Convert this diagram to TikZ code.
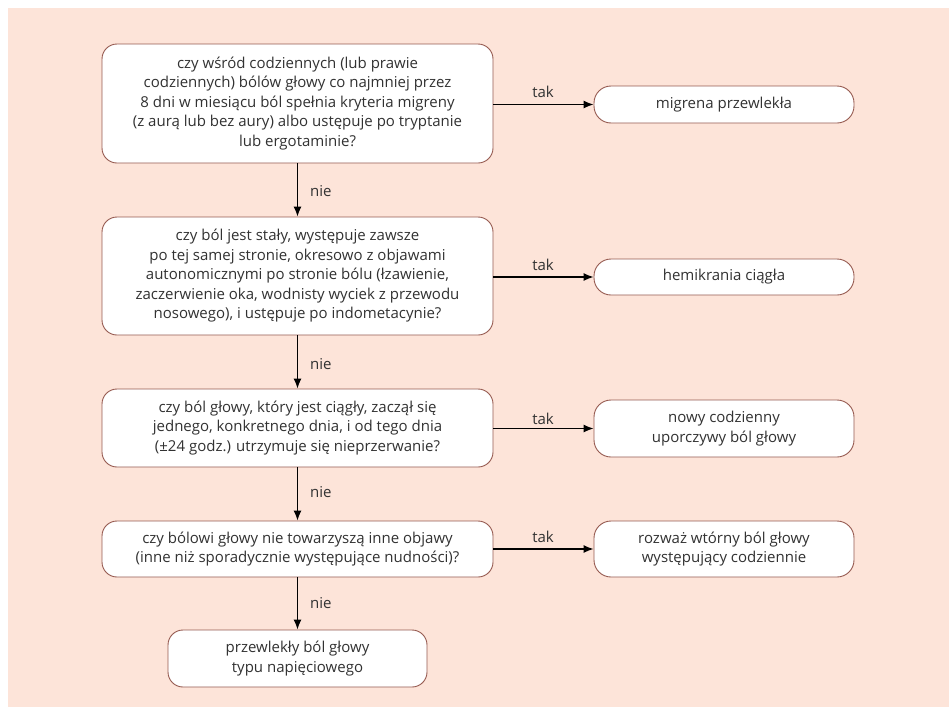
\documentclass[tikz,border=0pt]{standalone}
\usepackage{fontspec}
\setmainfont{Open Sans}
\usetikzlibrary{arrows.meta}
\definecolor{peach}{RGB}{253,228,217}
\definecolor{boxline}{RGB}{150,90,80}
\definecolor{txt}{RGB}{50,50,50}
\begin{document}
\begin{tikzpicture}[x=1pt,y=-1pt,
  qbox/.style={draw=boxline, line width=0.9pt, fill=white, rounded corners=15pt,
    align=center, text=txt, inner sep=0pt, font=\fontsize{15}{19.5}\selectfont},
  abox/.style={draw=boxline, line width=0.9pt, fill=white, rounded corners=17pt,
    align=center, text=txt, inner sep=0pt, font=\fontsize{15}{19.5}\selectfont},
  conn/.style={draw=black, line width=1.3pt, -{Latex[length=10pt,width=8pt]}},
  lbl/.style={text=txt, font=\fontsize{15}{17}\selectfont, inner sep=0pt}]
\useasboundingbox (0,0) rectangle (949,707);
\fill[white] (0,0) rectangle (949,707);
\fill[peach] (8,8) rectangle (949,707);

\node[qbox, minimum width=391pt, minimum height=119pt] (b1) at (297.5,103.5)
  {czy wśród codziennych (lub prawie\\codziennych) bólów głowy co najmniej przez\\8 dni w miesiącu ból spełnia kryteria migreny\\(z aurą lub bez aury) albo ustępuje po tryptanie\\lub ergotaminie?};
\node[qbox, minimum width=391pt, minimum height=118pt] (b2) at (297.5,276)
  {czy ból jest stały, występuje zawsze\\po tej samej stronie, okresowo z objawami\\autonomicznymi po stronie bólu (łzawienie,\\zaczerwienie oka, wodnisty wyciek z przewodu\\nosowego), i ustępuje po indometacynie?};
\node[qbox, minimum width=391pt, minimum height=78pt] (b3) at (297.5,428)
  {czy ból głowy, który jest ciągły, zaczął się\\jednego, konkretnego dnia, i od tego dnia\\(±24 godz.) utrzymuje się nieprzerwanie?};
\node[qbox, minimum width=391pt, minimum height=56pt] (b4) at (297.5,549)
  {czy bólowi głowy nie towarzyszą inne objawy\\(inne niż sporadycznie występujące nudności)?};
\node[qbox, minimum width=259pt, minimum height=57pt] (b5) at (297.5,658.5)
  {przewlekły ból głowy\\typu napięciowego};

\node[abox, minimum width=260pt, minimum height=37pt] (r1) at (724,104.5)
  {migrena przewlekła};
\node[abox, minimum width=260pt, minimum height=36pt] (r2) at (724,277)
  {hemikrania ciągła};
\node[abox, minimum width=260pt, minimum height=57pt] (r3) at (724,428.5)
  {nowy codzienny\\uporczywy ból głowy};
\node[abox, minimum width=260pt, minimum height=56pt] (r4) at (724,549)
  {rozważ wtórny ból głowy\\występujący codziennie};

\draw[conn] (b1.south) -- (b2.north);
\draw[conn] (b2.south) -- (b3.north);
\draw[conn] (b3.south) -- (b4.north);
\draw[conn] (b4.south) -- (b5.north);
\draw[conn] (b1.east |- r1.west) -- (r1.west);
\draw[conn] (b2.east |- r2.west) -- (r2.west);
\draw[conn] (b3.east |- r3.west) -- (r3.west);
\draw[conn] (b4.east |- r4.west) -- (r4.west);

\node[lbl, anchor=west] (n1) at (310,191) {nie};
\node[lbl, anchor=west] (n2) at (310,364) {nie};
\node[lbl, anchor=west] (n3) at (310,492) {nie};
\node[lbl, anchor=west] (n4) at (310,603) {nie};
\node[lbl] (t1) at (543,92) {tak};
\node[lbl] (t2) at (543,265) {tak};
\node[lbl] (t3) at (543,419) {tak};
\node[lbl] (t4) at (543,537) {tak};
\end{tikzpicture}
\end{document}
